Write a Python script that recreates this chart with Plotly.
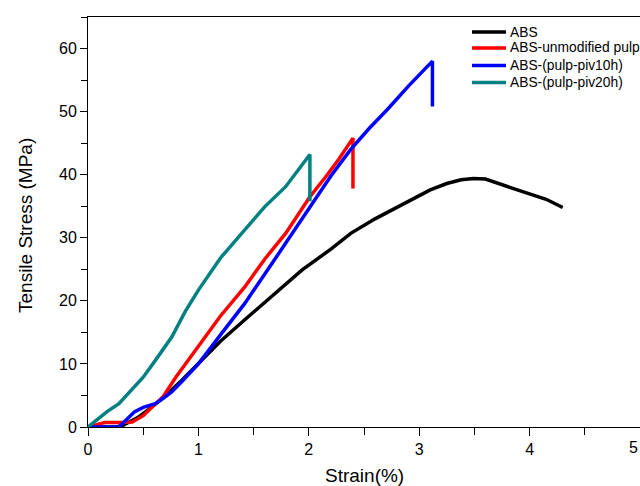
import plotly.graph_objects as go

# ---- data (strain %, tensile stress MPa) ----
abs_x = [0.0, 0.25, 0.31, 0.45, 0.55, 0.68, 0.85, 1.0, 1.2, 1.42, 1.7, 1.94, 2.2, 2.38, 2.6, 2.9, 3.1, 3.25, 3.38, 3.49, 3.6, 3.82, 4.0, 4.15, 4.3]
abs_y = [0.0, 0.0, 0.2, 1.5, 2.8, 4.6, 7.4, 10.0, 13.6, 17.0, 21.2, 24.9, 28.2, 30.7, 33.0, 35.8, 37.6, 38.6, 39.2, 39.4, 39.3, 38.0, 36.9, 36.1, 34.8]

unmod_x = [0.0, 0.1, 0.15, 0.3, 0.4, 0.5, 0.6, 0.68, 0.8, 1.0, 1.2, 1.42, 1.6, 1.79, 2.01, 2.15, 2.27, 2.4, 2.4]
unmod_y = [0.0, 0.4, 0.7, 0.7, 0.8, 1.8, 3.4, 4.8, 8.0, 12.7, 17.6, 22.2, 26.6, 30.7, 36.5, 39.6, 42.4, 45.8, 37.8]

piv10_x = [0.0, 0.28, 0.35, 0.42, 0.5, 0.61, 0.7, 0.76, 0.85, 1.0, 1.2, 1.42, 1.7, 2.01, 2.2, 2.38, 2.55, 2.71, 2.9, 3.12, 3.12]
piv10_y = [0.0, 0.0, 1.2, 2.4, 3.1, 3.7, 4.8, 5.6, 7.2, 10.0, 14.6, 19.6, 26.8, 35.0, 39.8, 44.0, 47.4, 50.3, 54.0, 58.0, 50.8]

piv20_x = [0.0, 0.08, 0.17, 0.28, 0.38, 0.5, 0.62, 0.76, 0.88, 1.0, 1.2, 1.42, 1.6, 1.79, 1.9, 2.01, 2.01]
piv20_y = [0.0, 1.2, 2.4, 3.7, 5.6, 7.9, 10.8, 14.3, 18.3, 21.7, 26.8, 31.2, 34.9, 38.1, 40.6, 43.2, 35.8]

names = ["ABS", "ABS-unmodified pulp", "ABS-(pulp-piv10h)", "ABS-(pulp-piv20h)"]
colors = ["#000000", "#ff0000", "#0000ff", "#008080"]
series = [(abs_x, abs_y), (unmod_x, unmod_y), (piv10_x, piv10_y), (piv20_x, piv20_y)]

x_ticks = [0, 1, 2, 3, 4, 5]
y_ticks = [0, 10, 20, 30, 40, 50, 60]

W, H = 640, 486
L, R, T, B = 88, 0, 17, 59
pw, ph = W - L - R, H - T - B

def px(p):
    return (p - L) / pw

def py(p):
    return (H - B - p) / ph

fig = go.Figure()
for (xs, ys), n, c in zip(series, names, colors):
    fig.add_trace(go.Scatter(x=xs, y=ys, name=n, mode="lines",
                             line=dict(color=c, width=3.5), showlegend=False))

# manual legend (line samples + labels)
legend_rows = [32, 48, 65.5, 82.5]
shapes, annotations = [], []
for n, c, ry in zip(names, colors, legend_rows):
    shapes.append(dict(type="line", xref="paper", yref="paper",
                       x0=px(472), x1=px(506), y0=py(ry), y1=py(ry),
                       line=dict(color=c, width=3.5)))
    annotations.append(dict(xref="paper", yref="paper", x=px(508), y=py(ry),
                            xanchor="left", yanchor="middle", showarrow=False,
                            text=n, font=dict(size=13.8, color="#000000")))

# last x tick label sits on the right edge; keep it fully inside the picture
annotations.append(dict(xref="paper", yref="paper", x=1.0, y=py(447),
                        xanchor="right", yanchor="middle", showarrow=False,
                        text=str(x_ticks[-1]), font=dict(size=16, color="#000000")))

annotations.append(dict(xref="paper", yref="paper", x=px(364), y=py(475),
                        xanchor="center", yanchor="middle", showarrow=False,
                        text="Strain(%)", font=dict(size=19, color="#000000")))
annotations.append(dict(xref="paper", yref="paper", x=px(25), y=py(226),
                        xanchor="center", yanchor="middle", showarrow=False,
                        textangle=-90,
                        text="Tensile Stress (MPa)", font=dict(size=19, color="#000000")))

fig.update_layout(
    width=W, height=H,
    margin=dict(l=L, r=R, t=T, b=B, autoexpand=False),
    paper_bgcolor="white", plot_bgcolor="white",
    font=dict(family="Liberation Sans, Arial", color="#000000", size=16),
    showlegend=False,
    shapes=shapes, annotations=annotations,
)
fig.update_xaxes(
    range=[0, 5], tickvals=x_ticks, ticktext=[str(v) for v in x_ticks],
    automargin=False,
    showgrid=False, zeroline=False, showline=True, linecolor="#000000",
    linewidth=1, mirror=True, ticks="outside", ticklen=8, tickcolor="#000000",
    minor=dict(ticks="outside", dtick=0.5, ticklen=7, tickcolor="#000000"),
)
fig.update_yaxes(
    range=[0, 65], tickvals=y_ticks, ticktext=[str(v) for v in y_ticks],
    automargin=False,
    showgrid=False, zeroline=False, showline=True, linecolor="#000000",
    linewidth=1, mirror=False, ticks="outside", ticklen=7, tickcolor="#000000",
    minor=dict(ticks="outside", dtick=5, ticklen=6, tickcolor="#000000"),
)

fig.write_html("out.html", config={"displayModeBar": False},
               post_script="document.body.style.margin='0';document.body.style.overflow='hidden';")
